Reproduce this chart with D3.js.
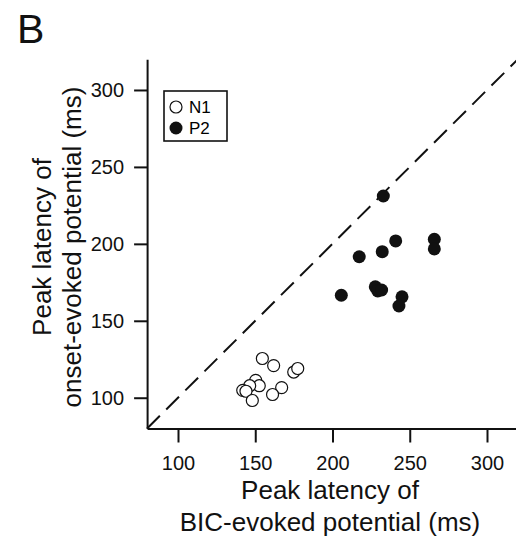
<!DOCTYPE html>
<html>
<head>
<meta charset="utf-8">
<script src="https://cdn.jsdelivr.net/npm/d3@7"></script>
<style>
  body { margin: 0; background: #fff; }
  svg { font-family: Arial, "Liberation Sans", Helvetica, sans-serif; }
  .axis path, .axis line { stroke: #111; stroke-width: 2; }
  .axis text { font-family: Arial, "Liberation Sans", Helvetica, sans-serif; font-size: 20px; fill: #111; }
</style>
</head>
<body>
<svg width="516" height="540"></svg>
<script>
// N1 (open circles): BIC-evoked vs onset-evoked peak latency, ms
const n1Bic   = [154.6, 161.9, 174.9, 177.5, 150.3, 152.6, 146.4, 141.9, 144.0, 167.1, 161.2, 148.1];
const n1Onset = [125.5, 120.9, 116.7, 119.0, 111.3, 107.8, 107.8, 104.8, 104.2, 106.6, 102.1, 98.2];

// P2 (filled circles)
const p2Bic   = [232.9, 240.9, 232.2, 217.3, 265.9, 265.9, 205.7, 227.7, 229.3, 231.8, 245.0, 243.0];
const p2Onset = [231.1, 201.9, 194.9, 191.6, 203.0, 196.7, 166.6, 172.1, 169.4, 170.0, 165.6, 159.6];

const tickValues = [100, 150, 200, 250, 300];
const axisDomain = [80, 320];

const svg = d3.select("svg");

const x = d3.scaleLinear().domain(axisDomain).range([147.1, 517.9]);
const y = d3.scaleLinear().domain(axisDomain).range([428.5, 59.2]);

// panel letter
svg.append("text")
    .attr("x", 17)
    .attr("y", 43)
    .style("font-size", "41px")
    .style("fill", "#111")
    .text("B");

// identity line
svg.append("line")
    .attr("x1", x(80)).attr("y1", y(80))
    .attr("x2", x(320)).attr("y2", y(320))
    .attr("stroke", "#111")
    .attr("stroke-width", 2)
    .attr("stroke-dasharray", "18,9");

// axes
svg.append("g")
    .attr("class", "axis")
    .attr("transform", `translate(0,${y(80)})`)
    .call(d3.axisBottom(x).tickValues(tickValues).tickSize(14).tickSizeOuter(0).tickPadding(13));

svg.append("g")
    .attr("class", "axis")
    .attr("transform", `translate(${x(80)},0)`)
    .call(d3.axisLeft(y).tickValues(tickValues).tickSize(13).tickSizeOuter(0).tickPadding(10));

// points
const n1 = n1Bic.map((v, i) => ({ bic: v, onset: n1Onset[i] }));
const p2 = p2Bic.map((v, i) => ({ bic: v, onset: p2Onset[i] }));

svg.selectAll(".n1")
    .data(n1)
    .enter().append("circle")
    .attr("class", "n1")
    .attr("cx", d => x(d.bic))
    .attr("cy", d => y(d.onset))
    .attr("r", 6)
    .attr("fill", "#fff")
    .attr("stroke", "#111")
    .attr("stroke-width", 1.2);

svg.selectAll(".p2")
    .data(p2)
    .enter().append("circle")
    .attr("class", "p2")
    .attr("cx", d => x(d.bic))
    .attr("cy", d => y(d.onset))
    .attr("r", 6.5)
    .attr("fill", "#111");

// legend
const legend = svg.append("g").attr("transform", "translate(164,91)");
legend.append("rect")
    .attr("width", 63).attr("height", 50)
    .attr("fill", "#fff")
    .attr("stroke", "#111")
    .attr("stroke-width", 1.6);
legend.append("circle").attr("cx", 12).attr("cy", 16).attr("r", 6)
    .attr("fill", "#fff").attr("stroke", "#111").attr("stroke-width", 1.2);
legend.append("circle").attr("cx", 12).attr("cy", 37).attr("r", 6.5)
    .attr("fill", "#111");
legend.append("text").attr("x", 25).attr("y", 22).style("font-size", "17px").text("N1");
legend.append("text").attr("x", 25).attr("y", 43).style("font-size", "17px").text("P2");

// axis titles
const xTitle = svg.append("text")
    .attr("text-anchor", "middle")
    .style("font-size", "26px")
    .style("fill", "#111");
xTitle.append("tspan").attr("x", 330).attr("y", 499).text("Peak latency of");
xTitle.append("tspan").attr("x", 330).attr("y", 531).text("BIC-evoked potential (ms)");

const yTitle = svg.append("text")
    .attr("text-anchor", "middle")
    .attr("transform", "translate(0,247) rotate(-90)")
    .style("font-size", "26px")
    .style("fill", "#111");
yTitle.append("tspan").attr("x", 0).attr("y", 51).text("Peak latency of");
yTitle.append("tspan").attr("x", 0).attr("y", 81).text("onset-evoked potential (ms)");
</script>
</body>
</html>
